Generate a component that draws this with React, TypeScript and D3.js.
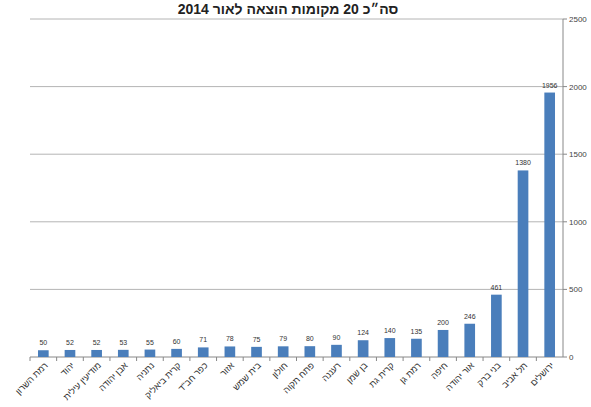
import React from "react";
import * as d3 from "d3";

const categories = [
  "רמת השרון", "יהוד", "מודיעין עילית", "אבן יהודה", "נתניה", "קרית ביאליק",
  "כפר חב\"ד", "אזור", "בית שמש", "חולון", "פתח תקוה", "רעננה", "בן שמן",
  "קרית גת", "רמת גן", "חיפה", "אור יהודה", "בני ברק", "תל אביב", "ירושלים",
];
const values = [50, 52, 52, 53, 55, 60, 71, 78, 75, 79, 80, 90, 124, 140, 135, 200, 246, 461, 1380, 1956];
const yTicks = [0, 500, 1000, 1500, 2000, 2500];
const title = "סה״כ 20 מקומות הוצאה לאור 2014";

const W = 591, H = 407;
const left = 30, right = 563, top = 19, bottom = 357;

export default function App() {
  const x = d3.scaleBand<string>().domain(categories).range([left, right]).paddingInner(0.6).paddingOuter(0.3);
  const y = d3.scaleLinear().domain([0, 2500]).range([bottom, top]);
  const step = x.step();
  const font = "'Liberation Sans', Arial, sans-serif";
  return (
    <svg width={W} height={H} style={{ position: "absolute", left: 0, top: 0, background: "#fff" }} fontFamily={font}>
      <text x={288} y={14} textAnchor="middle" fontSize={14} fontWeight="bold" fill="#222">{title}</text>
      {yTicks.map((t) => (
        <g key={t}>
          {t > 0 && <line x1={left} x2={right} y1={y(t)} y2={y(t)} stroke="#b4b4b4" strokeWidth={1} />}
          <line x1={right} x2={right + 4} y1={y(t)} y2={y(t)} stroke="#888" />
          <text x={right + 6} y={y(t) + 3} fontSize={8} fill="#444">{t}</text>
        </g>
      ))}
      <line x1={right} x2={right} y1={top} y2={bottom} stroke="#888" />
      <line x1={left} x2={right} y1={bottom} y2={bottom} stroke="#888" />
      {categories.map((c, i) => (
        <line key={"tk" + i} x1={left + step * i} x2={left + step * i} y1={bottom} y2={bottom + 4} stroke="#888" />
      ))}
      {categories.map((c, i) => {
        const bx = x(c)!;
        const bw = x.bandwidth();
        return (
          <g key={c}>
            <rect x={bx} y={y(values[i])} width={bw} height={bottom - y(values[i])} fill="#4a7ebb" />
            <text x={bx + bw / 2} y={y(values[i]) - 5} textAnchor="middle" fontSize={7} fill="#333">{values[i]}</text>
            <text
              transform={`translate(${bx + bw / 2 + 5},${bottom + 9}) rotate(-45)`}
              textAnchor="end"
              fontSize={9}
              fill="#333"
            >{c}</text>
          </g>
        );
      })}
    </svg>
  );
}
